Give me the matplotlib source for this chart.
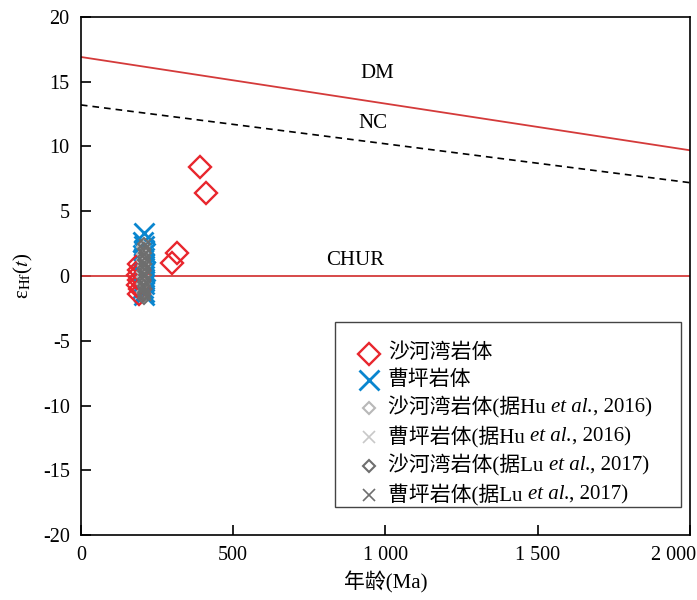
import matplotlib.pyplot as plt
from matplotlib.lines import Line2D
from matplotlib.offsetbox import AnchoredOffsetbox, DrawingArea, HPacker, TextArea, VPacker
import matplotlib.transforms as mtransforms

plt.rcParams['font.family'] = ['Liberation Serif', 'Noto Sans CJK SC']
plt.rcParams['mathtext.fontset'] = 'stix'
plt.rcParams['axes.unicode_minus'] = False

# - DATA -
# 沙河湾岩体 (this study)
shw_age = [190, 192, 188, 191, 189, 193, 190, 300, 315, 390, 410]
shw_eps = [0.9, 0.5, 0.1, -0.3, -0.7, -1.0, -1.4, 1.0, 1.8, 8.4, 6.4]
# 曹坪岩体 (this study)
cp_age = [207, 205, 208, 206, 209, 204, 207, 205, 208, 206, 204, 209, 207, 205, 206, 208, 207, 205, 206, 208]
cp_eps = [3.3, 2.6, 2.3, 2.0, 1.8, 1.6, 1.4, 1.2, 1.0, 0.8, 0.6, 0.4, 0.2, 0.0, -0.2, -0.4, -0.6, -0.9, -1.2, -1.5]
# Hu et al., 2016
hu_shw_age = [204, 205, 203, 206, 204, 205, 203, 205]
hu_shw_eps = [2.2, 1.7, 1.2, 0.8, 0.3, -0.1, -0.6, -1.2]
hu_cp_age = [206, 207, 205, 206, 207, 205]
hu_cp_eps = [1.9, 1.3, 0.7, 0.2, -0.4, -0.9]
# Lu et al., 2017
lu_shw_age = [208, 207, 209, 208, 207, 209, 208, 207, 209, 208, 207, 208, 209, 207, 208, 207]
lu_shw_eps = [2.5, 2.1, 1.8, 1.5, 1.2, 0.9, 0.6, 0.4, 0.1, -0.2, -0.5, -0.8, -1.0, -1.3, -1.5, -1.7]
lu_cp_age = [209, 208, 210, 209, 208, 210]
lu_cp_eps = [2.4, 1.6, 0.8, 0.0, -0.8, -1.5]

# reference evolution lines
ref_age = [0, 2000]
dm_eps = [16.9, 9.7]
nc_eps = [13.2, 7.2]
chur_eps = [0, 0]

xticks = [0, 500, 1000, 1500, 2000]
xtick_labels = ['0', '500', '1 000', '1 500', '2 000']
yticks = list(range(-20, 21, 5))

# legend rows: (prefix, italic part, suffix)
legend_rows = [
    ('沙河湾岩体', '', ''),
    ('曹坪岩体', '', ''),
    ('沙河湾岩体(据Hu ', 'et al.', ', 2016)'),
    ('曹坪岩体(据Hu ', 'et al.', ', 2016)'),
    ('沙河湾岩体(据Lu ', 'et al.', ', 2017)'),
    ('曹坪岩体(据Lu ', 'et al.', ', 2017)'),
]
# - DATA -

red = '#e8262d'
blue = '#0a86cf'
light = '#b8b8b8'
dark = '#6e6e6e'

styles = [
    dict(marker='D', mfc='none', mec=red, ms=11.5, mew=1.7),
    dict(marker='x', color=blue, ms=14, mew=2),
    dict(marker='D', mfc='none', mec=light, ms=6, mew=1.5),
    dict(marker='x', color='#c8c8c8', ms=8, mew=1.2),
    dict(marker='D', mfc='none', mec=dark, ms=6, mew=1.5),
    dict(marker='x', color=dark, ms=8, mew=1.2),
]

fig = plt.figure(figsize=(6.97, 6.00), dpi=100)
ax = fig.add_axes([0.116, 0.108, 0.874, 0.864])

ax.plot(ref_age, dm_eps, color='#d43a3a', lw=1.3)
ax.plot(ref_age, nc_eps, color='black', lw=1.2, ls=(0, (4, 3)))
ax.plot(ref_age, chur_eps, color='#d43a3a', lw=1.3)

ax.plot(cp_age, cp_eps, ls='none', **styles[1])
ax.plot(shw_age, shw_eps, ls='none', **styles[0])
ax.plot(hu_shw_age, hu_shw_eps, ls='none', **styles[2])
ax.plot(hu_cp_age, hu_cp_eps, ls='none', **styles[3])
ax.plot(lu_shw_age, lu_shw_eps, ls='none', **styles[4])
ax.plot(lu_cp_age, lu_cp_eps, ls='none', **styles[5])

ax.text(972, 15.6, 'DM', fontsize=15, ha='center', va='center')
ax.text(960, 11.8, 'NC', fontsize=15, ha='center', va='center')
ax.text(900, 1.2, 'CHUR', fontsize=15, ha='center', va='center')

ax.set_xlim(0, 2000)
ax.set_ylim(-20, 20)
ax.set_xticks(xticks)
ax.set_xticklabels(xtick_labels)
ax.set_yticks(yticks)
ax.tick_params(direction='in', length=7, width=1.2, labelsize=14.5, pad=8)
for s in ax.spines.values():
    s.set_linewidth(1.2)
# pull the last x label inside the figure
last = ax.get_xticklabels()[-1]
last.set_transform(last.get_transform() + mtransforms.ScaledTranslation(-12 / 72, 0, fig.dpi_scale_trans))

ax.set_xlabel('年龄(Ma)', fontsize=15, labelpad=4)
ax.set_ylabel('ε$_{\\rm Hf}$($\\mathbf{\\it{t}}$)', fontsize=15, labelpad=6)

# legend built from packed boxes so the italic part can sit inside the CJK text
rows = []
tp = dict(fontsize=15, family=['Liberation Serif', 'Noto Sans CJK SC'])
for (pre, ital, suf), st in zip(legend_rows, styles):
    da = DrawingArea(29, 12, 0, 0)
    da.add_artist(Line2D([15], [6], ls='none', **st))
    parts = [da, TextArea(pre, textprops=tp)]
    if ital:
        parts.append(TextArea(ital, textprops=dict(tp, style='italic')))
        parts.append(TextArea(suf, textprops=tp))
    rows.append(HPacker(children=parts, align='center', pad=0, sep=0))
column = VPacker(children=rows, align='left', pad=0, sep=5)
middle = HPacker(children=[DrawingArea(9, 1, 0, 0), column, DrawingArea(21, 1, 0, 0)],
                 align='top', pad=0, sep=0)
box = VPacker(children=[DrawingArea(1, 16, 0, 0), middle, DrawingArea(1, 1, 0, 0)],
              align='left', pad=0, sep=0)
anchored = AnchoredOffsetbox(loc='lower right', child=box, pad=0, borderpad=0.0,
                             bbox_to_anchor=(0.985, 0.054), bbox_transform=ax.transAxes,
                             frameon=True)
anchored.patch.set_edgecolor('#444444')
anchored.patch.set_linewidth(1.0)
anchored.patch.set_boxstyle('square', pad=0)
ax.add_artist(anchored)

fig.savefig('out.png', dpi=100)
